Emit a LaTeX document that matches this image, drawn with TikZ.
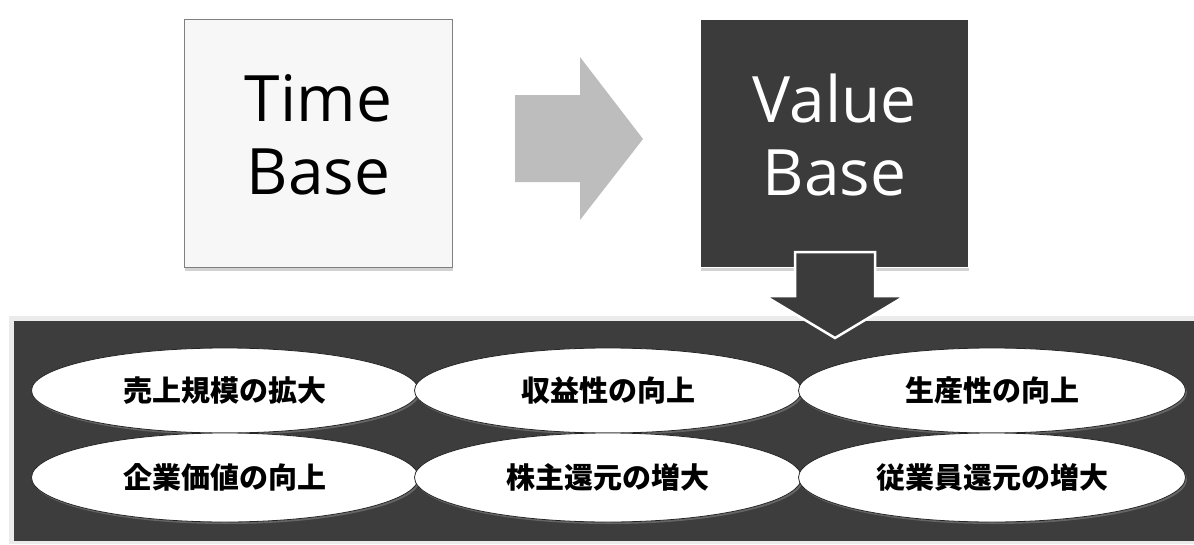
\documentclass[tikz,border=0pt]{standalone}
\usepackage{fontspec}
\setmainfont{Open Sans}
\newfontfamily\jpfont{Noto Sans CJK JP}
\usetikzlibrary{shapes.geometric,shadows}

\begin{document}
\begin{tikzpicture}[x=1pt,y=-1pt]
\tikzstyle{every node} = [inner sep=0pt, outer sep=0pt]
\tikzstyle{base box} = [minimum width=268pt, minimum height=248pt, line width=1.2pt,
  preaction={draw=white, line width=6pt},
  drop shadow={shadow xshift=0pt, shadow yshift=-3pt, opacity=.35}]
\tikzstyle{base label} = [align=center, font=\fontsize{64}{73}\selectfont]
\tikzstyle{goal} = [ellipse, draw=black!85, fill=white, minimum width=387pt, line width=.8pt,
  drop shadow={shadow xshift=1.5pt, shadow yshift=-2pt, opacity=.6},
  font=\jpfont\bfseries\fontsize{29}{29}\selectfont]

\useasboundingbox (0,0) rectangle (1194,544);
\fill [white] (0,0) rectangle (1194,544);

% top: from time to value
\node [base box, draw=black!50, fill=black!3] (time) at (318.5,143.5) {};
\node [base label] (timetxt) at ([yshift=8.5pt]time.center) {Time\\Base};

\fill [black!26] (515,95) -- (580,95) -- (580,57) -- (643,139) -- (580,220) -- (580,182) -- (515,182) -- cycle;

\node [base box, draw=white, fill=black!77] (value) at (834.5,143.5) {};
\node [base label, text=white] (valuetxt) at ([yshift=8.5pt]value.center) {Value\\Base};

% bottom panel
\fill [black!8] (9,316) rectangle (1194,544);
\fill [black!76] (14,321) rectangle (1194,541);

\node [goal, minimum height=85pt] (sales) at (225,390.5) {売上規模の拡大};
\node [goal, minimum height=85pt] (profit) at (608,390.5) {収益性の向上};
\node [goal, minimum height=85pt] (prod) at (992,390.5) {生産性の向上};
\node [goal, minimum height=89pt] (corp) at (225,477.5) {企業価値の向上};
\node [goal, minimum height=89pt] (share) at (608,477.5) {株主還元の増大};
\node [goal, minimum height=89pt] (staff) at (992,477.5) {従業員還元の増大};

\filldraw [fill=black!77, draw=white, line width=2.5pt, line join=miter]
  (795,252) -- (875,252) -- (875,296) -- (905,296) -- (835,338) -- (765,296) -- (795,296) -- cycle;
\end{tikzpicture}
\end{document}
